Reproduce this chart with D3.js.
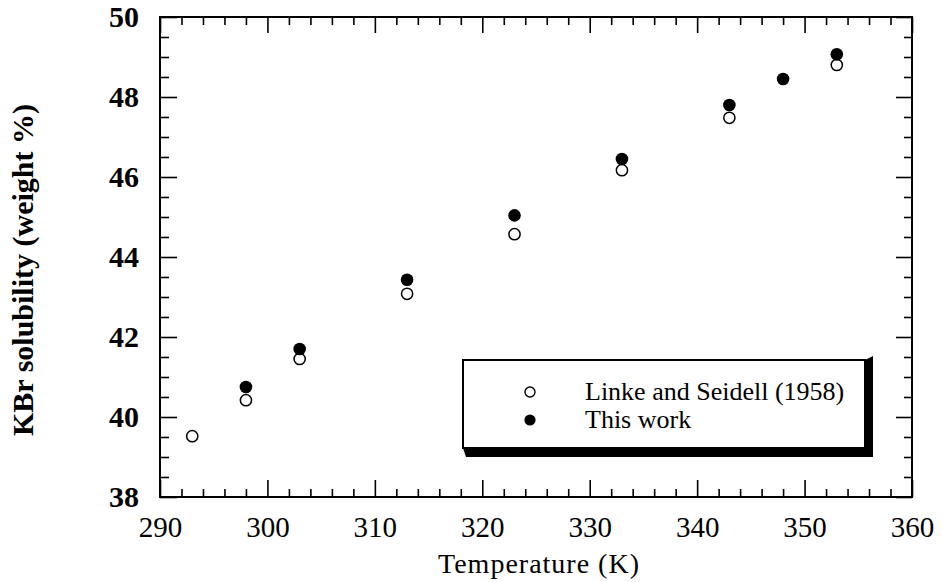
<!DOCTYPE html>
<html>
<head>
<meta charset="utf-8">
<script src="https://cdn.jsdelivr.net/npm/d3@7"></script>
<style>
  body { margin: 0; background: #fff; }
  svg { display: block; font-family: "Liberation Serif", "Times New Roman", serif; }
</style>
</head>
<body>
<svg id="chart"></svg>
<script>
// temperatures (K) and KBr solubility (weight %)
const tempLinke = [293, 298, 303, 313, 323, 333, 343, 353];
const solLinke  = [39.52, 40.42, 41.45, 43.08, 44.57, 46.17, 47.48, 48.8];
const tempThis  = [298, 303, 313, 323, 333, 343, 348, 353];
const solThis   = [40.75, 41.7, 43.43, 45.04, 46.45, 47.8, 48.45, 49.07];

const xTicks = [290, 300, 310, 320, 330, 340, 350, 360];
const yTicks = [38, 40, 42, 44, 46, 48, 50];
const legendNames = ["Linke and Seidell (1958)", "This work"];

const width = 942, height = 582;
const area = { left: 160, right: 912, top: 17, bottom: 497 };

const svg = d3.select("#chart").attr("width", width).attr("height", height);

const x = d3.scaleLinear().domain([290, 360]).range([area.left, area.right]);
const y = d3.scaleLinear().domain([38, 50]).range([area.bottom, area.top]);

const xMinor = d3.range(290, 360.1, 2).filter(v => v % 10 !== 0);
const yMinor = d3.range(38, 50.01, 0.5).filter(v => v % 2 !== 0);

function styleAxis(g) {
    g.select(".domain").remove();
    g.selectAll("line").attr("stroke", "#000").attr("stroke-width", 1.6);
}

// bottom axis
svg.append("g")
    .attr("transform", `translate(0,${area.bottom})`)
    .call(d3.axisBottom(x).tickValues(xMinor).tickSize(-8).tickFormat(""))
    .call(styleAxis);
svg.append("g")
    .attr("transform", `translate(0,${area.bottom})`)
    .call(d3.axisBottom(x).tickValues(xTicks).tickSize(-17).tickPadding(19).tickFormat(d3.format("d")))
    .call(styleAxis)
    .selectAll("text")
    .attr("font-size", 29)
    .attr("fill", "#000")
    .attr("font-family", "Liberation Serif");

// top axis
svg.append("g")
    .attr("transform", `translate(0,${area.top})`)
    .call(d3.axisTop(x).tickValues(xMinor).tickSize(-8).tickFormat(""))
    .call(styleAxis);
svg.append("g")
    .attr("transform", `translate(0,${area.top})`)
    .call(d3.axisTop(x).tickValues(xTicks).tickSize(-16).tickFormat(""))
    .call(styleAxis);

// left axis
svg.append("g")
    .attr("transform", `translate(${area.left},0)`)
    .call(d3.axisLeft(y).tickValues(yMinor).tickSize(-9).tickFormat(""))
    .call(styleAxis);
svg.append("g")
    .attr("transform", `translate(${area.left},0)`)
    .call(d3.axisLeft(y).tickValues(yTicks).tickSize(-17).tickPadding(21).tickFormat(d3.format("d")))
    .call(styleAxis)
    .selectAll("text")
    .attr("font-size", 30)
    .attr("font-weight", "bold")
    .attr("fill", "#000")
    .attr("font-family", "Liberation Serif");

// right axis
svg.append("g")
    .attr("transform", `translate(${area.right},0)`)
    .call(d3.axisRight(y).tickValues(yMinor).tickSize(-8).tickFormat(""))
    .call(styleAxis);
svg.append("g")
    .attr("transform", `translate(${area.right},0)`)
    .call(d3.axisRight(y).tickValues(yTicks).tickSize(-16).tickFormat(""))
    .call(styleAxis);

// frame
svg.append("rect")
    .attr("x", area.left).attr("y", area.top)
    .attr("width", area.right - area.left).attr("height", area.bottom - area.top)
    .attr("fill", "none").attr("stroke", "#000").attr("stroke-width", 2);

// axis titles
svg.append("text")
    .attr("x", 539).attr("y", 573)
    .attr("text-anchor", "middle")
    .attr("font-size", 28)
    .attr("letter-spacing", 1)
    .text("Temperature (K)");

svg.append("text")
    .attr("transform", `translate(33,270) rotate(-90)`)
    .attr("text-anchor", "middle")
    .attr("font-size", 30).attr("font-weight", "bold")
    .text("KBr solubility (weight %)");

// data points
svg.append("g").selectAll("circle")
    .data(tempLinke.map((t, i) => [t, solLinke[i]]))
    .join("circle")
    .attr("cx", d => x(d[0])).attr("cy", d => y(d[1]))
    .attr("r", 5.6)
    .attr("fill", "#fff").attr("stroke", "#000").attr("stroke-width", 1.5);

svg.append("g").selectAll("circle")
    .data(tempThis.map((t, i) => [t, solThis[i]]))
    .join("circle")
    .attr("cx", d => x(d[0])).attr("cy", d => y(d[1]))
    .attr("r", 6.3)
    .attr("fill", "#000");

// legend
const lg = { left: 463, top: 360, right: 865, bottom: 448 };
svg.append("polygon")
    .attr("points", [
        [lg.right, lg.top], [lg.right + 8, lg.top - 4], [lg.right + 8, lg.bottom + 9],
        [lg.left + 3, lg.bottom + 9], [lg.left, lg.bottom]
    ].map(p => p.join(",")).join(" "))
    .attr("fill", "#000");
svg.append("rect")
    .attr("x", lg.left).attr("y", lg.top)
    .attr("width", lg.right - lg.left).attr("height", lg.bottom - lg.top)
    .attr("fill", "#fff").attr("stroke", "#000").attr("stroke-width", 2);

legendNames.forEach((name, i) => {
    const cy = 392 + i * 28;
    svg.append("circle")
        .attr("cx", 530).attr("cy", cy)
        .attr("r", i === 0 ? 5 : 5.6)
        .attr("fill", i === 0 ? "#fff" : "#000")
        .attr("stroke", "#000").attr("stroke-width", i === 0 ? 1.4 : 0);
    svg.append("text")
        .attr("x", 585).attr("y", cy + 8)
        .attr("font-size", 26)
        .text(name);
});
</script>
</body>
</html>
